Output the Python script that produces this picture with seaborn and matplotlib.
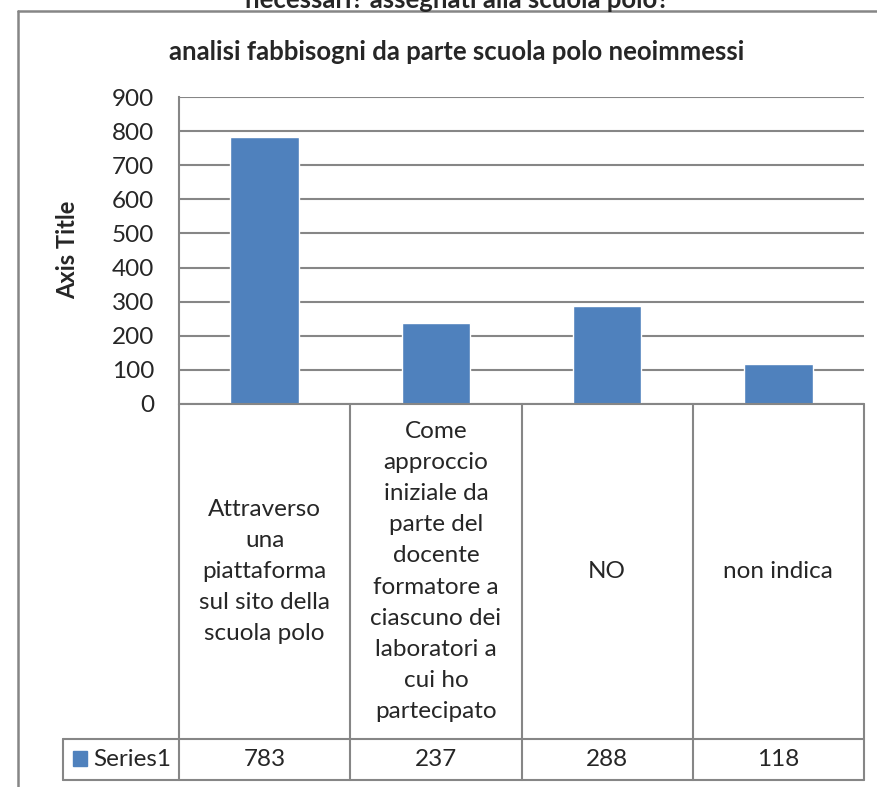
import matplotlib
matplotlib.use("Agg")
import matplotlib.pyplot as plt
import matplotlib.transforms as mtransforms
from matplotlib.lines import Line2D
from matplotlib.patches import Rectangle
import seaborn as sns

## Data
categories = [
    "Attraverso\nuna\npiattaforma\nsul sito della\nscuola polo",
    "Come\napproccio\niniziale da\nparte del\ndocente\nformatore a\nciascuno dei\nlaboratori a\ncui ho\npartecipato",
    "NO",
    "non indica",
]
values = [783, 237, 288, 118]
series_name = "Series1"
yticks = [0, 100, 200, 300, 400, 500, 600, 700, 800, 900]
title = "analisi fabbisogni da parte scuola polo neoimmessi"
cut_title = "necessari? assegnati alla scuola polo?"

W, H = 877, 787
BAR = "#4F81BD"
GRID = "#868686"
FONT = "Lato"
FS = 17.5

sns.set_style("white")
plt.rcParams["font.family"] = [FONT, "DejaVu Sans"]


def fx(px):
    return px / W


def fy(py):
    return 1 - py / H


fig = plt.figure(figsize=(W / 100, H / 100), dpi=100)

# plot area
x0, x1, ytop, ybot = 179, 864, 97, 404
ax = fig.add_axes([fx(x0), fy(ybot), fx(x1 - x0), fy(ytop) - fy(ybot)])
sns.barplot(x=list(range(len(values))), y=values, ax=ax, color=BAR,
            width=0.4, saturation=1)
ax.set_xlim(-0.5, len(values) - 0.5)
ax.set_ylim(0, 900)
ax.set_yticks(yticks)
ax.set_yticklabels([str(t) for t in yticks], fontsize=FS)
ax.set_xticks([])
ax.tick_params(axis="y", length=0, pad=18)
ax.yaxis.grid(True, color=GRID, linewidth=1.5)
ax.set_axisbelow(True)
for s in ["top", "right", "bottom"]:
    ax.spines[s].set_visible(False)
ax.spines["left"].set_color(GRID)
ax.spines["left"].set_linewidth(1.5)
ax.set_xlabel("")
ax.set_ylabel("")

# titles
fig.text(fx(457), fy(52), title, ha="center", va="center", fontsize=18.5,
         fontweight="bold")
fig.text(fx(457), fy(0), cut_title, ha="center", va="center", fontsize=18.5,
         fontweight="bold")
fig.text(fx(68), fy(250), "Axis Title", ha="center", va="center",
         rotation=90, fontsize=17, fontweight="bold")

# outer chart border
fig.add_artist(Line2D([fx(17.5), fx(17.5)], [fy(11), 0], color=GRID, lw=1.8))
fig.add_artist(Line2D([fx(17.5), 1], [fy(11), fy(11)], color=GRID, lw=1.8))

# data table
tr = mtransforms.blended_transform_factory(ax.transData, fig.transFigure)
t_top, t_mid, t_bot = 404, 739, 780
edges = [i - 0.5 for i in range(len(values) + 1)]
kw = dict(color=GRID, lw=1.5, transform=tr, clip_on=False)
for e in edges:
    fig.add_artist(Line2D([e, e], [fy(t_top), fy(t_bot)], **kw))
fig.add_artist(Line2D([edges[0], edges[-1]], [fy(t_top), fy(t_top)], **kw))
kwf = dict(color=GRID, lw=1.5)
for yy in (t_mid, t_bot):
    fig.add_artist(Line2D([fx(63), fx(x1)], [fy(yy), fy(yy)], **kwf))
fig.add_artist(Line2D([fx(63), fx(63)], [fy(t_mid), fy(t_bot)], **kwf))

for i, (cat, val) in enumerate(zip(categories, values)):
    fig.text(i, fy((t_top + t_mid) / 2), cat, transform=tr, ha="center",
             va="center", fontsize=FS, linespacing=1.6)
    fig.text(i, fy((t_mid + t_bot) / 2), str(val), transform=tr,
             ha="center", va="center", fontsize=FS)

fig.add_artist(Rectangle((fx(73), fy(766)), fx(14), fy(751) - fy(766),
                         color=BAR))
fig.text(fx(93), fy((t_mid + t_bot) / 2), series_name, ha="left",
         va="center", fontsize=FS)

fig.savefig("out.png", dpi=100)
